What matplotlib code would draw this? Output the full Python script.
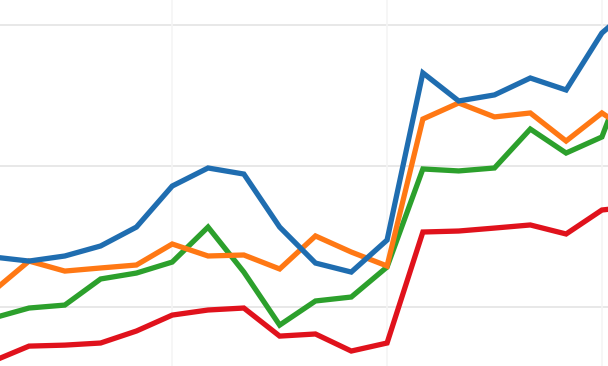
import matplotlib
matplotlib.use("Agg")
import matplotlib.pyplot as plt

# values (19 points, first and last partly cut off)
idx = list(range(19))
blue = [135.5, 132.6, 136.2, 143.3, 156.7, 185.8, 198.6, 194.3, 156.7, 131.2,
        124.8, 147.5, 266.0, 246.1, 250.4, 262.4, 253.9, 294.3, 316.3]
orange = [111.3, 132.6, 125.5, 127.7, 129.8, 144.7, 136.2, 136.9, 127.0, 150.4,
          139.0, 129.1, 233.3, 244.7, 234.8, 237.6, 217.7, 237.6, 220.6]
green = [92.2, 99.3, 101.4, 119.9, 124.1, 131.9, 156.7, 124.8, 87.2, 104.3,
         107.1, 128.4, 197.9, 196.5, 198.6, 226.2, 209.2, 220.6, 287.2]
red = [61.7, 72.3, 73.0, 74.5, 83.0, 94.3, 97.9, 99.3, 79.4, 80.9,
       68.8, 74.5, 153.2, 153.9, 156.0, 158.2, 151.8, 168.8, 171.6]

fig = plt.figure(figsize=(6.08, 3.66), dpi=100)
ax = fig.add_axes([0, 0, 1, 1])

# grid first, then the series on top
for y in [100, 200, 300]:
    ax.axhline(y, color="#e6e6e6", lw=1.3, zorder=0)
for x in [5, 11, 17]:
    ax.axvline(x, color="#f5f5f5", lw=1.2, zorder=0)

ax.plot(idx, red, color="#e0121c", lw=3.8, solid_joinstyle="miter", zorder=2)
ax.plot(idx, green, color="#2ca02c", lw=3.8, solid_joinstyle="miter", zorder=3)
ax.plot(idx, orange, color="#ff7814", lw=3.8, solid_joinstyle="miter", zorder=4)
ax.plot(idx, blue, color="#1f6db0", lw=3.8, solid_joinstyle="miter", zorder=5)

ax.set_xlim(0.19, 17.17)
ax.set_ylim(58.2, 317.7)
ax.axis("off")

fig.savefig("out.png", dpi=100)
